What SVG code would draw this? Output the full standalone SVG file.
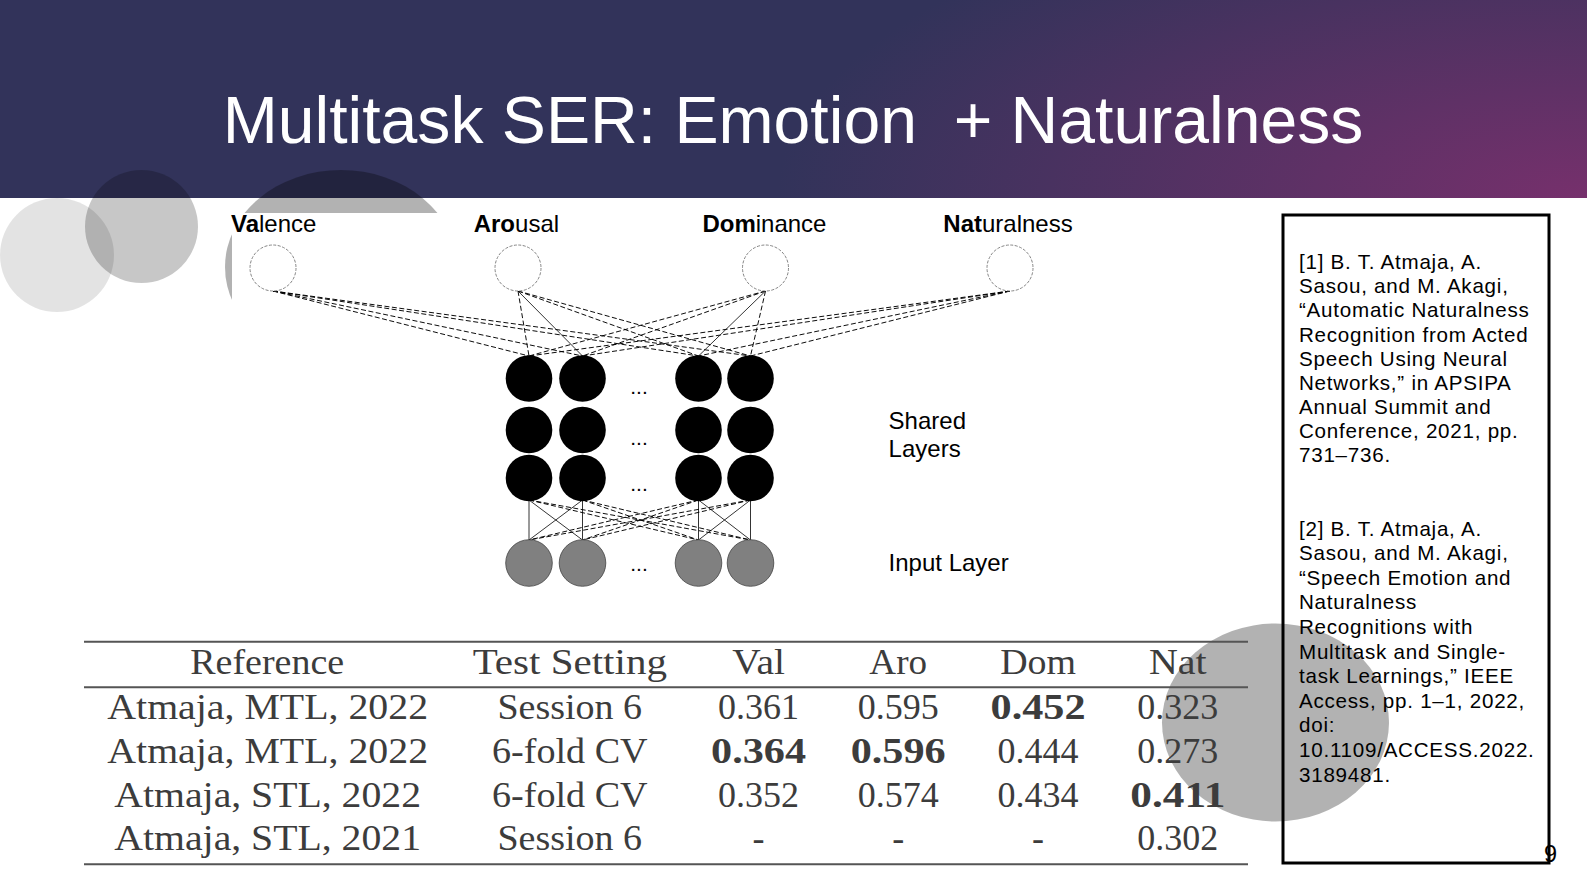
<svg xmlns="http://www.w3.org/2000/svg" width="1587" height="893" viewBox="0 0 1587 893">
<defs>
<radialGradient id="hdr" gradientUnits="userSpaceOnUse" cx="1587" cy="198" r="810" gradientTransform="translate(1587 198) scale(1 0.404) translate(-1587 -198)">
<stop offset="0" stop-color="#76306c"/>
<stop offset="1" stop-color="#32335a"/>
</radialGradient>
<style>
.sans{font-family:"Liberation Sans",Arial,sans-serif;}
.lbl{font-family:"Liberation Sans",Arial,sans-serif;font-size:24px;fill:#000;}
.b{font-weight:bold;}
.out{fill:#fff;stroke:#777;stroke-width:0.9;stroke-dasharray:3 1.5;}
.hid{fill:#000;}
.inp{fill:#808080;stroke:#444;stroke-width:0.8;}
.dots{font-family:"Liberation Sans",Arial,sans-serif;font-size:21px;fill:#000;text-anchor:middle;}
.dash{stroke:#000;stroke-width:0.95;stroke-dasharray:5 2.5;fill:none;}
.sol{stroke:#000;stroke-width:0.8;fill:none;}
.tb{font-family:"Liberation Serif","Times New Roman",serif;font-size:36px;fill:#3c3c3c;text-anchor:middle;}
.tbb{font-weight:bold;}
.rule{stroke:#555;stroke-width:2;}
.ref{font-family:"Liberation Sans",Arial,sans-serif;font-size:20.6px;letter-spacing:0.75px;fill:#000;}
</style>
</defs>

<g id="header">
<rect x="0" y="0" width="1587" height="198" fill="url(#hdr)"/>
<text class="sans" x="793" y="143.3" font-size="66.1" fill="#fff" text-anchor="middle" xml:space="preserve">Multitask SER: Emotion  + Naturalness</text>
</g>

<g id="decor">
<circle cx="57" cy="255" r="57" fill="#000" fill-opacity="0.11"/>
<circle cx="141.5" cy="226.5" r="56.5" fill="#000" fill-opacity="0.22"/>
<ellipse cx="341" cy="267" rx="116" ry="97" fill="#000" fill-opacity="0.3"/>
<rect x="232" y="213" width="860" height="400" fill="#fff"/>
<ellipse cx="1275.5" cy="722.5" rx="113.5" ry="99" fill="#000" fill-opacity="0.3"/>
</g>

<g id="connectors">
<line class="dash" x1="273" y1="291" x2="529" y2="356"/>
<line class="dash" x1="273" y1="291" x2="582.5" y2="356"/>
<line class="dash" x1="273" y1="291" x2="698.5" y2="356"/>
<line class="dash" x1="273" y1="291" x2="750.5" y2="356"/>
<line class="dash" x1="518" y1="291" x2="529" y2="356"/>
<line class="sol" x1="518" y1="291" x2="582.5" y2="356"/>
<line class="dash" x1="518" y1="291" x2="698.5" y2="356"/>
<line class="dash" x1="518" y1="291" x2="750.5" y2="356"/>
<line class="dash" x1="765.5" y1="291" x2="529" y2="356"/>
<line class="dash" x1="765.5" y1="291" x2="582.5" y2="356"/>
<line class="sol" x1="765.5" y1="291" x2="698.5" y2="356"/>
<line class="dash" x1="765.5" y1="291" x2="750.5" y2="356"/>
<line class="dash" x1="1010" y1="291" x2="529" y2="356"/>
<line class="dash" x1="1010" y1="291" x2="582.5" y2="356"/>
<line class="dash" x1="1010" y1="291" x2="698.5" y2="356"/>
<line class="dash" x1="1010" y1="291" x2="750.5" y2="356"/>
<line class="sol" x1="529" y1="500" x2="529" y2="540"/>
<line class="sol" x1="529" y1="500" x2="582.5" y2="540"/>
<line class="dash" x1="529" y1="500" x2="698.5" y2="540"/>
<line class="dash" x1="529" y1="500" x2="750.5" y2="540"/>
<line class="sol" x1="582.5" y1="500" x2="529" y2="540"/>
<line class="sol" x1="582.5" y1="500" x2="582.5" y2="540"/>
<line class="dash" x1="582.5" y1="500" x2="698.5" y2="540"/>
<line class="dash" x1="582.5" y1="500" x2="750.5" y2="540"/>
<line class="dash" x1="698.5" y1="500" x2="529" y2="540"/>
<line class="dash" x1="698.5" y1="500" x2="582.5" y2="540"/>
<line class="sol" x1="698.5" y1="500" x2="698.5" y2="540"/>
<line class="sol" x1="698.5" y1="500" x2="750.5" y2="540"/>
<line class="dash" x1="750.5" y1="500" x2="529" y2="540"/>
<line class="dash" x1="750.5" y1="500" x2="582.5" y2="540"/>
<line class="sol" x1="750.5" y1="500" x2="698.5" y2="540"/>
<line class="sol" x1="750.5" y1="500" x2="750.5" y2="540"/>
</g>

<g id="out-valence">
<text class="lbl" x="231" y="232"><tspan class="b">Va</tspan>lence</text>
<circle class="out" cx="273" cy="268" r="23"/>
</g>
<g id="out-arousal">
<text class="lbl" x="473.7" y="232"><tspan class="b">Aro</tspan>usal</text>
<circle class="out" cx="518" cy="268" r="23"/>
</g>
<g id="out-dominance">
<text class="lbl" x="702.4" y="232"><tspan class="b">Dom</tspan>inance</text>
<circle class="out" cx="765.5" cy="268" r="23"/>
</g>
<g id="out-naturalness">
<text class="lbl" x="943.3" y="232"><tspan class="b">Nat</tspan>uralness</text>
<circle class="out" cx="1010" cy="268" r="23"/>
</g>

<g id="shared-layers">
<circle class="hid" cx="529" cy="378.5" r="23.3"/>
<circle class="hid" cx="582.5" cy="378.5" r="23.3"/>
<circle class="hid" cx="698.5" cy="378.5" r="23.3"/>
<circle class="hid" cx="750.5" cy="378.5" r="23.3"/>
<circle class="hid" cx="529" cy="430" r="23.3"/>
<circle class="hid" cx="582.5" cy="430" r="23.3"/>
<circle class="hid" cx="698.5" cy="430" r="23.3"/>
<circle class="hid" cx="750.5" cy="430" r="23.3"/>
<circle class="hid" cx="529" cy="478" r="23.3"/>
<circle class="hid" cx="582.5" cy="478" r="23.3"/>
<circle class="hid" cx="698.5" cy="478" r="23.3"/>
<circle class="hid" cx="750.5" cy="478" r="23.3"/>
<text class="dots" x="639" y="394">...</text>
<text class="dots" x="639" y="445">...</text>
<text class="dots" x="639" y="491">...</text>
<text class="lbl" x="888.6" y="429">Shared</text>
<text class="lbl" x="888.6" y="456.5">Layers</text>
</g>

<g id="input-layer">
<circle class="inp" cx="529" cy="563" r="23.3"/>
<circle class="inp" cx="582.5" cy="563" r="23.3"/>
<circle class="inp" cx="698.5" cy="563" r="23.3"/>
<circle class="inp" cx="750.5" cy="563" r="23.3"/>
<text class="dots" x="639" y="571">...</text>
<text class="lbl" x="888.6" y="571">Input Layer</text>
</g>

<g id="table">
<line class="rule" x1="84" y1="641.7" x2="1248" y2="641.7"/>
<line class="rule" x1="84" y1="687.3" x2="1248" y2="687.3"/>
<line class="rule" x1="84" y1="864.3" x2="1248" y2="864.3"/>
<text class="tb" x="267.2" y="673.5" textLength="153.9" lengthAdjust="spacingAndGlyphs">Reference</text>
<text class="tb" x="569.8" y="673.5" textLength="194.3" lengthAdjust="spacingAndGlyphs">Test Setting</text>
<text class="tb" x="758.6" y="673.5" textLength="52.6" lengthAdjust="spacingAndGlyphs">Val</text>
<text class="tb" x="898.2" y="673.5" textLength="57.7" lengthAdjust="spacingAndGlyphs">Aro</text>
<text class="tb" x="1038.1" y="673.5" textLength="75.9" lengthAdjust="spacingAndGlyphs">Dom</text>
<text class="tb" x="1177.8" y="673.5" textLength="57.7" lengthAdjust="spacingAndGlyphs">Nat</text>

<text class="tb" x="267.7" y="719" textLength="320.8" lengthAdjust="spacingAndGlyphs">Atmaja, MTL, 2022</text>
<text class="tb" x="569.8" y="719" textLength="144.7" lengthAdjust="spacingAndGlyphs">Session 6</text>
<text class="tb" x="758.6" y="719">0.361</text>
<text class="tb" x="898.2" y="719">0.595</text>
<text class="tb tbb" x="1038.1" y="719" textLength="95" lengthAdjust="spacingAndGlyphs">0.452</text>
<text class="tb" x="1177.8" y="719">0.323</text>

<text class="tb" x="267.7" y="762.5" textLength="320.8" lengthAdjust="spacingAndGlyphs">Atmaja, MTL, 2022</text>
<text class="tb" x="569.8" y="762.5" textLength="155.8" lengthAdjust="spacingAndGlyphs">6-fold CV</text>
<text class="tb tbb" x="758.6" y="762.5" textLength="95" lengthAdjust="spacingAndGlyphs">0.364</text>
<text class="tb tbb" x="898.2" y="762.5" textLength="95" lengthAdjust="spacingAndGlyphs">0.596</text>
<text class="tb" x="1038.1" y="762.5">0.444</text>
<text class="tb" x="1177.8" y="762.5">0.273</text>

<text class="tb" x="267.7" y="806.6" textLength="306.7" lengthAdjust="spacingAndGlyphs">Atmaja, STL, 2022</text>
<text class="tb" x="569.8" y="806.6" textLength="155.8" lengthAdjust="spacingAndGlyphs">6-fold CV</text>
<text class="tb" x="758.6" y="806.6">0.352</text>
<text class="tb" x="898.2" y="806.6">0.574</text>
<text class="tb" x="1038.1" y="806.6">0.434</text>
<text class="tb tbb" x="1177.8" y="806.6" textLength="95" lengthAdjust="spacingAndGlyphs">0.411</text>

<text class="tb" x="267.7" y="850.2" textLength="306.7" lengthAdjust="spacingAndGlyphs">Atmaja, STL, 2021</text>
<text class="tb" x="569.8" y="850.2" textLength="144.7" lengthAdjust="spacingAndGlyphs">Session 6</text>
<text class="tb" x="758.6" y="850.2">-</text>
<text class="tb" x="898.2" y="850.2">-</text>
<text class="tb" x="1038.1" y="850.2">-</text>
<text class="tb" x="1177.8" y="850.2">0.302</text>
</g>

<g id="references">
<rect x="1283" y="215" width="266" height="648" fill="none" stroke="#000" stroke-width="3"/>
<text class="ref" x="1299">
<tspan x="1299" y="269">[1] B. T. Atmaja, A.</tspan>
<tspan x="1299" y="293.2">Sasou, and M. Akagi,</tspan>
<tspan x="1299" y="317.3">“Automatic Naturalness</tspan>
<tspan x="1299" y="341.5">Recognition from Acted</tspan>
<tspan x="1299" y="365.6">Speech Using Neural</tspan>
<tspan x="1299" y="389.8">Networks,” in APSIPA</tspan>
<tspan x="1299" y="414">Annual Summit and</tspan>
<tspan x="1299" y="438.1">Conference, 2021, pp.</tspan>
<tspan x="1299" y="462.3">731–736.</tspan>
</text>
<text class="ref" x="1299">
<tspan x="1299" y="535.5">[2] B. T. Atmaja, A.</tspan>
<tspan x="1299" y="560.1">Sasou, and M. Akagi,</tspan>
<tspan x="1299" y="584.7">“Speech Emotion and</tspan>
<tspan x="1299" y="609.3">Naturalness</tspan>
<tspan x="1299" y="633.9">Recognitions with</tspan>
<tspan x="1299" y="658.5">Multitask and Single-</tspan>
<tspan x="1299" y="683.1">task Learnings,” IEEE</tspan>
<tspan x="1299" y="707.7">Access, pp. 1–1, 2022,</tspan>
<tspan x="1299" y="732.3">doi:</tspan>
<tspan x="1299" y="756.9">10.1109/ACCESS.2022.</tspan>
<tspan x="1299" y="781.5">3189481.</tspan>
</text>
</g>

<g id="page-number">
<text class="sans" x="1544" y="862" font-size="23.5" fill="#000">9</text>
</g>
</svg>
